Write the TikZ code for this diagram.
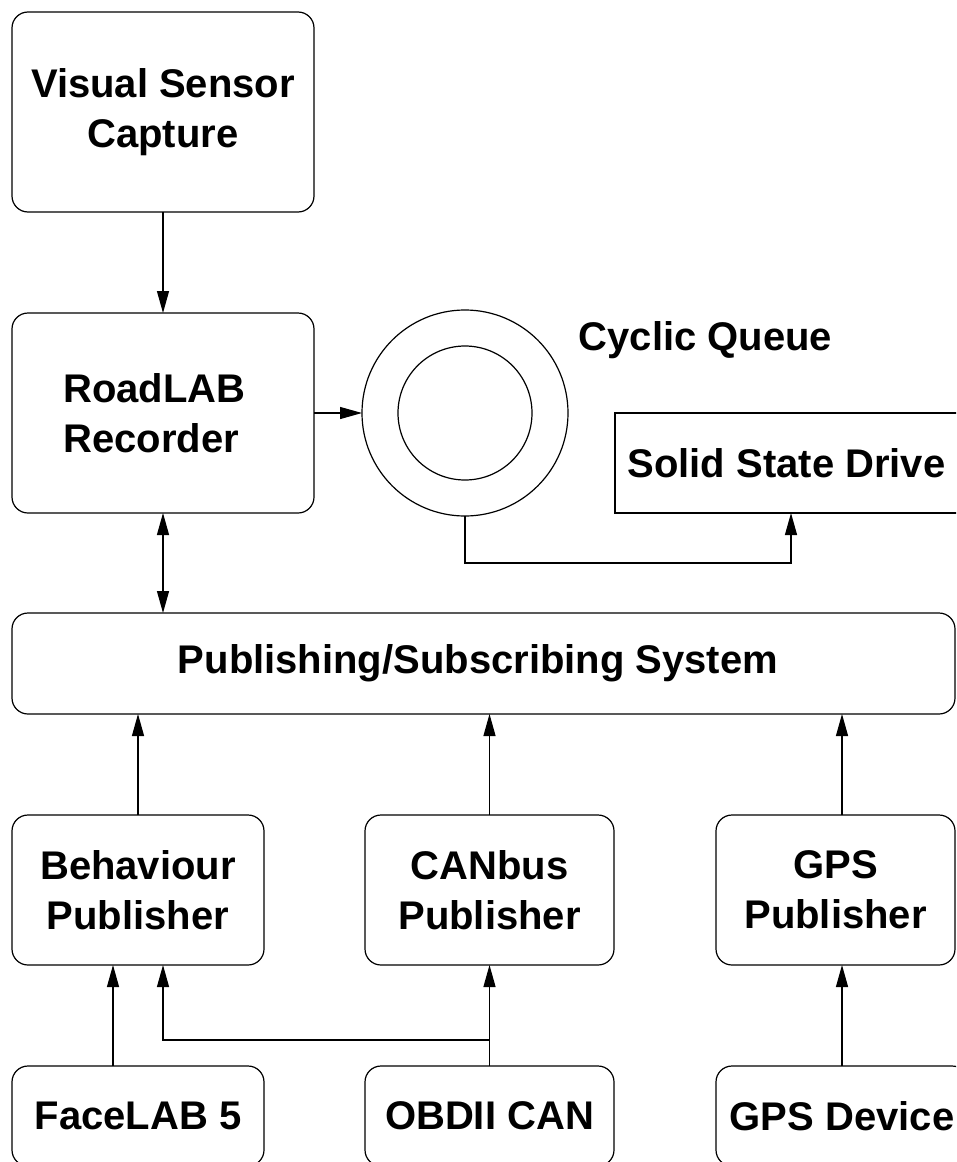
\documentclass[tikz,border=0pt]{standalone}
\usepackage{fontspec}
\setmainfont{Liberation Sans}
\usetikzlibrary{arrows.meta,calc}
\begin{document}
\begin{tikzpicture}[x=1pt,y=-1pt,
  line width=1.2pt,
  txt/.style={font=\fontsize{40}{50}\selectfont\bfseries},
  box/.style={draw,rounded corners=16pt,inner sep=0pt,outer sep=0pt,align=center,txt},
  sbox/.style={draw,inner sep=0pt,outer sep=0pt,align=center,txt},
  lbl/.style={inner sep=0pt,txt},
  arr/.style={-{Triangle[length=22pt,width=12pt]}},
  dbl/.style={{Triangle[length=22pt,width=12pt]}-{Triangle[length=22pt,width=12pt]}}]
\useasboundingbox (0,0) rectangle (956,1162);
\clip (0,0) rectangle (956,1162);
\node[box,minimum width=302,minimum height=200] (vsc) at (163,112) {Visual Sensor\\Capture};
\node[box,minimum width=302,minimum height=200] (rec) at (163,413) {};
\node[lbl,align=left] (rect) at (154.5,413) {RoadLAB\\Recorder};
\node[draw,circle,minimum size=206,inner sep=0pt,outer sep=0pt] (q) at (465,413) {};
\node[draw,circle,minimum size=134,inner sep=0pt,outer sep=0pt] (qi) at (465,413) {};
\node[lbl,anchor=base] (cq) at (705.5,350) {Cyclic Queue};
\node[sbox,minimum width=343,minimum height=100] (ssd) at (786.5,463) {Solid State Drive};
\node[box,minimum width=943,minimum height=101] (pub) at (483.5,663.5) {};
\node[lbl] (pubt) at (478,663.5) {Publishing/Subscribing System};
\node[box,minimum width=252,minimum height=150] (beh) at (138,890) {Behaviour\\Publisher};
\node[box,minimum width=249,minimum height=150] (can) at (489.5,890) {CANbus\\Publisher};
\node[box,minimum width=239,minimum height=150] (gpsp) at (835.5,890) {GPS\\Publisher};
\node[box,minimum width=252,minimum height=100] (face) at (138,1116) {FaceLAB 5};
\node[box,minimum width=249,minimum height=100] (obd) at (489.5,1116) {OBDII CAN};
\node[box,minimum width=252,minimum height=100] (gpsd) at (842,1116) {GPS Device};
\draw[arr] (vsc.south) -- (rec.north);
\draw[arr] (rec.east) -- (q.west);
\coordinate (qd) at ($(q.south)+(0,47)$);
\draw[arr] (q.south) -- (qd) -| ([xshift=4.5]ssd.south);
\draw[dbl] (rec.south) -- (rec.south |- pub.north);
\draw[arr] (beh.north) -- (beh.north |- pub.south);
\draw[arr] (can.north) -- (can.north |- pub.south);
\draw[arr] ([xshift=6.5]gpsp.north) -- ([xshift=6.5]gpsp.north |- pub.south);
\draw[arr] ([xshift=-25]face.north) -- ([xshift=-25]face.north |- beh.south);
\draw[arr] (obd.north) -- (obd.north |- can.south);
\coordinate (ob) at ($(obd.north)+(0,-26)$);
\draw[arr] (ob) -| ([xshift=25]beh.south);
\draw[arr] (gpsd.north) -- (gpsd.north |- gpsp.south);
\end{tikzpicture}
\end{document}
